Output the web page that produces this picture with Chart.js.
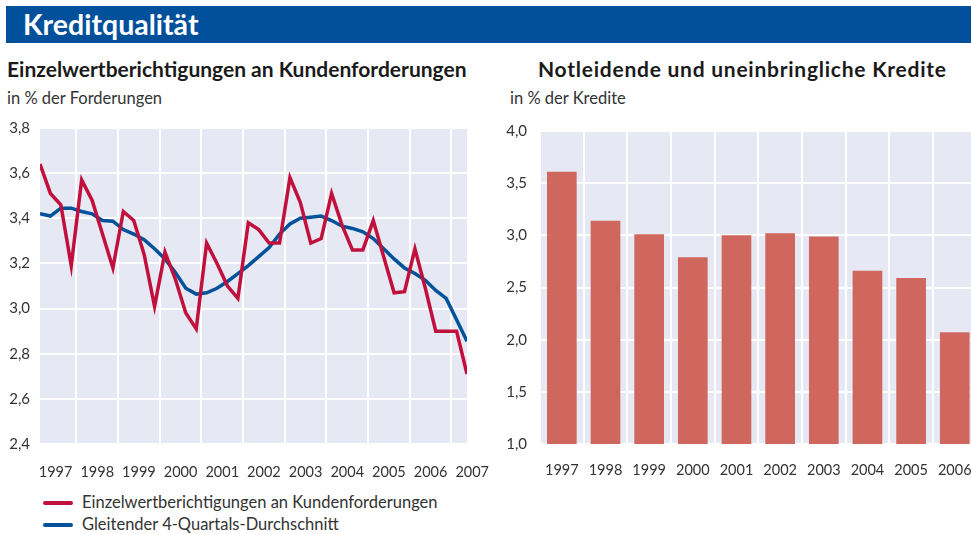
<!DOCTYPE html>
<html>
<head>
<meta charset="utf-8">
<script src="https://cdn.jsdelivr.net/npm/chart.js@4.4.1/dist/chart.umd.min.js"></script>
<style>
  html, body { margin: 0; padding: 0; background: #fff; overflow: hidden; width: 971px; height: 534px; }
  body { position: relative; font-family: Lato, "Open Sans", sans-serif; color: #333; }
  .band { position: absolute; left: 6px; top: 6px; width: 965px; height: 37px; background: #00509b; }
  .band span { position: absolute; left: 17px; top: 1px; font-size: 28.5px; font-weight: bold; color: #fff; }
  .sub { position: absolute; font-size: 21px; font-weight: bold; color: #1a1a1a; white-space: nowrap; }
  .unit { position: absolute; font-size: 16.5px; color: #333; white-space: nowrap; }
  .leg { position: absolute; left: 43px; font-size: 16.5px; color: #333; white-space: nowrap; }
  .leg i { display: inline-block; width: 30px; height: 4px; border-radius: 2px; vertical-align: middle; margin-right: 9px; position: relative; top: -1px; }
  canvas { position: absolute; }
</style>
</head>
<body>
<div class="band"><span>Kreditqualität</span></div>
<div class="sub" style="left:7px; top:56px;">Einzelwertberichtigungen an Kundenforderungen</div>
<div class="unit" style="left:7px; top:88px;">in % der Forderungen</div>
<div class="sub" style="left:538px; top:56px; letter-spacing:0.75px;">Notleidende und uneinbringliche Kredite</div>
<div class="unit" style="left:510px; top:88px;">in % der Kredite</div>

<canvas id="lineChart" width="520" height="381" style="left:0; top:109px; width:520px; height:381px;"></canvas>
<canvas id="barChart" width="500" height="381" style="left:490px; top:109px; width:500px; height:381px;"></canvas>

<div class="leg" style="top:492px;"><i style="background:#c1103b"></i>Einzelwertberichtigungen an Kundenforderungen</div>
<div class="leg" style="top:514px;"><i style="background:#00529b"></i>Gleitender 4-Quartals-Durchschnitt</div>

<script>
// quarterly values, Q1 1997 .. Q2 2007
const ewbQuarterly = [
  3.64, 3.51, 3.46, 3.19,
  3.57, 3.48, 3.33, 3.18,
  3.43, 3.39, 3.24, 3.01,
  3.25, 3.13, 2.98, 2.91,
  3.29, 3.20, 3.10, 3.045,
  3.38, 3.35, 3.29, 3.29,
  3.58, 3.47, 3.29, 3.31,
  3.51, 3.37, 3.26, 3.26,
  3.39, 3.23, 3.07, 3.075,
  3.265, 3.09, 2.90, 2.90,
  2.90, 2.71
];
const movingAvg = [
  3.42, 3.41, 3.445, 3.445,
  3.43, 3.42, 3.39, 3.387,
  3.35, 3.33, 3.305, 3.265,
  3.22, 3.16, 3.09, 3.064,
  3.07, 3.09, 3.12, 3.155,
  3.19, 3.23, 3.27, 3.33,
  3.375, 3.40, 3.405, 3.41,
  3.39, 3.365, 3.355, 3.34,
  3.31, 3.265, 3.22, 3.18,
  3.155, 3.125, 3.08, 3.045,
  2.95, 2.855
];
const yearLabels = ['1997','1998','1999','2000','2001','2002','2003','2004','2005','2006','2007'];

const barYears = ['1997','1998','1999','2000','2001','2002','2003','2004','2005','2006'];
const notleidend = [3.61, 3.14, 3.01, 2.79, 3.00, 3.02, 2.99, 2.66, 2.59, 2.07];

const plotBg = {
  id: 'plotBg',
  beforeDraw(chart) {
    const a = chart.chartArea, ctx = chart.ctx;
    ctx.save();
    ctx.fillStyle = '#e6e9f3';
    ctx.fillRect(a.left, a.top, a.right - a.left, a.bottom - a.top);
    ctx.restore();
  }
};

const comma = v => Number(v).toFixed(1).replace('.', ',');
const tickFont = { family: 'Lato', size: 15 };

new Chart(document.getElementById('lineChart'), {
  type: 'line',
  data: {
    datasets: [
      {
        label: 'Einzelwertberichtigungen an Kundenforderungen',
        data: ewbQuarterly.map((v, i) => ({ x: i, y: v })),
        borderColor: '#c1103b',
        borderWidth: 3.5,
        pointRadius: 0,
        tension: 0
      },
      {
        label: 'Gleitender 4-Quartals-Durchschnitt',
        data: movingAvg.map((v, i) => ({ x: i, y: v })),
        borderColor: '#00529b',
        borderWidth: 3.5,
        pointRadius: 0,
        tension: 0
      }
    ]
  },
  options: {
    responsive: false,
    animation: false,
    layout: { padding: { top: 12, right: 53, left: 0, bottom: 0 } },
    plugins: { legend: { display: false }, tooltip: { enabled: false } },
    scales: {
      x: {
        type: 'linear', min: 0, max: 41,
        afterBuildTicks: s => { s.ticks = yearLabels.slice(0, 10).map((y, i) => ({ value: 3.5 + 4 * i })); },
        afterFit: s => { s.height = 0; },
        ticks: { display: false },
        grid: { color: '#ffffff', lineWidth: 2, drawTicks: false },
        border: { display: false }
      },
      xl: {
        type: 'linear', position: 'bottom', min: 0, max: 41,
        afterBuildTicks: s => { s.ticks = yearLabels.map((y, i) => ({ value: 1.5 + 4 * i })); },
        afterFit: s => { s.height = 46; },
        ticks: {
          autoSkip: false, maxRotation: 0, padding: 20, color: '#333', font: { family: 'Lato', size: 14.5 },
          callback: (v) => yearLabels[Math.round((v - 1.5) / 4)]
        },
        grid: { display: false, drawTicks: false },
        border: { display: false }
      },
      y: {
        min: 2.4, max: 3.8,
        afterBuildTicks: s => { s.ticks = [2.4, 2.6, 2.8, 3.0, 3.2, 3.4, 3.6, 3.8].map(v => ({ value: v })); },
        afterFit: s => { s.width = 40; },
        ticks: { padding: 10, color: '#333', font: tickFont, callback: comma },
        grid: { color: '#ffffff', lineWidth: 2, drawTicks: false },
        border: { display: false }
      }
    }
  },
  plugins: [plotBg]
});

new Chart(document.getElementById('barChart'), {
  type: 'bar',
  data: {
    labels: barYears,
    datasets: [{
      label: 'Notleidende und uneinbringliche Kredite',
      data: notleidend,
      backgroundColor: '#d0675e',
      categoryPercentage: 1,
      barPercentage: 0.68
    }]
  },
  options: {
    responsive: false,
    animation: false,
    layout: { padding: { top: 12, right: 8, left: 0, bottom: 0 } },
    plugins: { legend: { display: false }, tooltip: { enabled: false } },
    scales: {
      x: {
        afterFit: s => { s.height = 46; },
        ticks: { padding: 18, color: '#333', font: { family: 'Lato', size: 14.5 }, maxRotation: 0, autoSkip: false },
        grid: { color: '#ffffff', lineWidth: 2, drawTicks: false, offset: true },
        border: { display: false }
      },
      y: {
        min: 1.0, max: 4.0,
        afterBuildTicks: s => { s.ticks = [1.0, 1.5, 2.0, 2.5, 3.0, 3.5, 4.0].map(v => ({ value: v })); },
        ticks: { padding: 13, color: '#333', font: tickFont, callback: comma },
        afterFit: s => { s.width = 50; },
        grid: { color: '#ffffff', lineWidth: 2, drawTicks: false },
        border: { display: false }
      }
    }
  },
  plugins: [plotBg]
});
</script>
</body>
</html>
